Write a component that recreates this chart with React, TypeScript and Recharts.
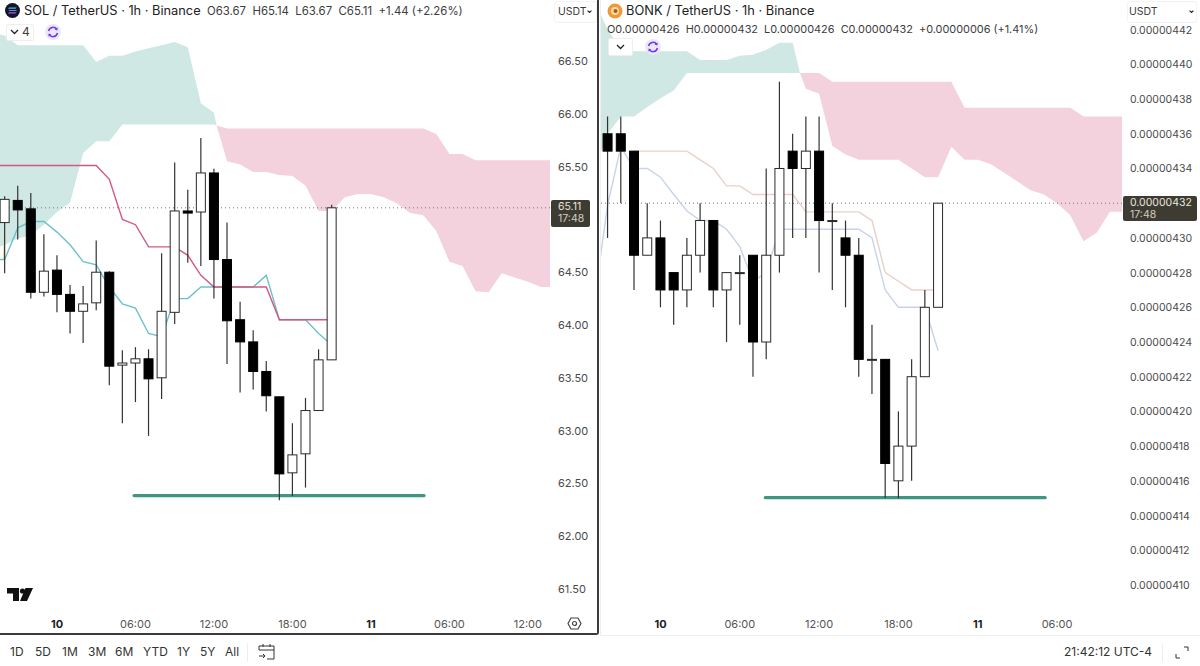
import { ComposedChart, Area, Bar, Line, XAxis, YAxis, ReferenceLine } from 'recharts'

const FONT = 'Inter, "Noto Sans", sans-serif'
const CANDLE_WIDTH = 10

// SOL, hours counted from the 10th 00:00
const solHours = [-4, -3, -2, -1, 0, 1, 2, 3, 4, 5, 6, 7, 8, 9, 10, 11, 12, 13, 14, 15, 16, 17, 18, 19, 20, 21]
const solOpen = [64.97, 65.18, 65.10, 64.31, 64.52, 64.29, 64.13, 64.21, 64.50, 63.62, 63.64, 63.68, 63.50, 64.12, 65.08, 65.07, 65.44, 64.62, 64.05, 63.84, 63.56, 63.32, 62.60, 62.78, 63.19, 63.67]
const solHigh = [65.22, 65.32, 65.25, 64.86, 64.66, 64.38, 64.37, 64.80, 64.51, 63.76, 63.79, 63.77, 64.68, 65.54, 65.28, 65.77, 65.48, 64.97, 64.22, 63.95, 63.66, 63.32, 63.07, 63.31, 63.77, 65.14]
const solLow = [64.49, 64.81, 64.25, 64.27, 64.12, 63.92, 63.83, 64.14, 63.43, 63.07, 63.27, 62.95, 63.30, 64.01, 64.59, 64.56, 64.25, 63.63, 63.36, 63.39, 63.18, 62.34, 62.38, 62.46, 63.19, 63.67]
const solClose = [65.19, 65.09, 64.31, 64.51, 64.29, 64.13, 64.20, 64.50, 63.61, 63.64, 63.68, 63.49, 64.13, 65.08, 65.06, 65.44, 64.62, 64.04, 63.84, 63.56, 63.33, 62.59, 62.77, 63.19, 63.67, 65.11]

const solGreenHours = [-5, -4, -3, -2, -1, 0, 1, 2, 3, 4, 5, 6, 7, 8, 9, 10, 11, 12, 12.2]
const solGreenTop = [66.77, 66.74, 66.65, 66.65, 66.65, 66.65, 66.65, 66.65, 66.49, 66.55, 66.55, 66.59, 66.62, 66.65, 66.68, 66.63, 66.10, 66.01, 65.89]
const solGreenBottom = [64.71, 64.76, 64.82, 64.85, 64.95, 65.07, 65.16, 65.63, 65.74, 65.74, 65.90, 65.90, 65.90, 65.90, 65.90, 65.90, 65.90, 65.90, 65.89]

const solPinkHours = [12.2, 13, 14, 15, 16, 17, 18, 19, 20, 21, 22, 23, 24, 25, 26, 27, 28, 29, 30, 31, 32, 33, 34, 35, 36, 37, 38]
const solPinkTop = [65.89, 65.86, 65.86, 65.86, 65.86, 65.86, 65.86, 65.86, 65.86, 65.86, 65.86, 65.86, 65.86, 65.86, 65.86, 65.86, 65.86, 65.81, 65.62, 65.62, 65.56, 65.56, 65.56, 65.56, 65.56, 65.56, 65.56]
const solPinkBottom = [65.89, 65.55, 65.52, 65.45, 65.45, 65.42, 65.41, 65.32, 65.08, 65.08, 65.21, 65.24, 65.24, 65.21, 65.15, 65.06, 65.04, 64.89, 64.60, 64.56, 64.32, 64.31, 64.49, 64.45, 64.41, 64.36, 64.36]

const solLineHours = [-5, -4, -3, -2, -1, 0, 1, 2, 3, 4, 5, 6, 7, 8, 9, 10, 11, 12, 13, 14, 15, 16, 17, 18, 19, 20, 21]
const solTenkan = [64.62, 64.62, 64.92, 64.98, 64.98, 64.88, 64.76, 64.60, 64.57, 64.36, 64.20, 64.16, 63.92, 63.89, 64.25, 64.25, 64.36, 64.36, 64.36, 64.36, 64.36, 64.47, 64.05, 64.05, 64.05, 63.92, 63.81]
const solKijun = [65.51, 65.51, 65.51, 65.51, 65.51, 65.51, 65.51, 65.51, 65.51, 65.38, 65.00, 64.95, 64.74, 64.74, 64.74, 64.66, 64.47, 64.36, 64.36, 64.36, 64.36, 64.36, 64.05, 64.05, 64.05, 64.05, 64.05]
const solLagHours = [-5, -4.1, -4]
const solLag = [64.62, 64.62, 64.95]
const solSupportHours = [5.89, 28.06]
const solSupport = [62.385, 62.385]
const solTicks = [66.5, 66, 65.5, 64.5, 64, 63.5, 63, 62.5, 62, 61.5]
const solTimeTicks = [0, 6, 12, 18, 24, 30, 36]

// BONK, prices in units of 0.00000001
const bonkHours = [-4, -3, -2, -1, 0, 1, 2, 3, 4, 5, 6, 7, 8, 9, 10, 11, 12, 13, 14, 15, 16, 17, 18, 19, 20, 21]
const bonkOpen = [436, 436, 435, 429, 430, 428, 427, 429, 431, 427, 428, 429, 424, 429, 435, 434, 435, 431, 430, 429, 423, 423, 416, 418, 422, 426]
const bonkHigh = [437, 437, 435, 432, 431, 428, 430, 432, 431, 428, 429, 429, 434, 439, 436, 437, 437, 432, 431, 430, 425, 423, 420, 423, 427, 432]
const bonkLow = [430, 432, 427, 429, 426, 425, 426, 428, 426, 424, 425, 422, 423, 428, 430, 430, 428, 427, 426, 422, 421, 415, 415, 416, 422, 426]
const bonkClose = [435, 435, 429, 430, 427, 427, 429, 431, 427, 428, 428, 424, 429, 434, 434, 435, 431, 431, 429, 423, 423, 417, 418, 422, 426, 432]

const bonkGreenHours = [-5, -4, -3, -2, -1, 0, 1, 2, 3, 4, 5, 6, 7, 8, 9, 10, 10.55]
const bonkGreenTop = [443.7, 442, 440.95, 440.75, 440.75, 440.75, 440.75, 440.75, 440.25, 440.25, 440.25, 440.5, 440.55, 440.85, 441.25, 441.25, 439.5]
const bonkGreenBottom = [433.9, 436, 437, 437, 437.55, 438.05, 438.5, 439.5, 439.5, 439.5, 439.5, 439.5, 439.5, 439.5, 439.5, 439.5, 439.5]

const bonkPinkHours = [10.55, 11, 12, 13, 14, 15, 16, 17, 18, 19, 20, 21, 22, 23, 24, 25, 26, 27, 28, 29, 30, 31, 32, 33, 34, 35]
const bonkPinkTop = [439.5, 439.5, 439.5, 439, 439, 439, 439, 439, 439, 439, 439, 439, 439, 437.5, 437.5, 437.5, 437.5, 437.5, 437.5, 437.5, 437.5, 437.5, 437, 437, 437, 437]
const bonkPinkBottom = [439.5, 438.6, 438.3, 435.3, 434.8, 434.5, 434.5, 434.5, 434.5, 434, 433.5, 433.5, 435.25, 434.5, 434.5, 434.25, 433.75, 433.25, 432.75, 432.5, 432, 431.3, 429.8, 430.3, 431.5, 431.5]

const bonkTenkanHours = [-5, -4, -3, -2, -1, 0, 1, 2, 3, 4, 5, 6, 7, 8, 9, 10, 11, 12, 13, 14, 15, 16, 17, 18, 19, 20, 21]
const bonkTenkan = [426.4, 431.9, 435.25, 434, 434, 433.5, 432.5, 431.55, 431, 431, 430.5, 429.5, 427.5, 428, 430.5, 430.5, 430.5, 430.5, 430.5, 430.5, 430.5, 430, 427, 426, 426, 426, 423.5]
const bonkKijunHours = [-2, -1, 0, 1, 2, 3, 4, 5, 6, 7, 8, 9, 10, 11, 12, 13, 14, 15, 16, 17, 18, 19, 20, 21]
const bonkKijun = [435, 435, 435, 435, 435, 434.5, 434, 433, 433, 432.5, 432.5, 432.5, 432.5, 431.5, 431.5, 431.5, 431.5, 431.5, 431, 428, 427.5, 427, 427, 427]
const bonkSupportHours = [7.93, 29.1]
const bonkSupport = [415.03, 415.03]
const bonkTicks = [442, 440, 438, 436, 434, 430, 428, 426, 424, 422, 420, 418, 416, 414, 412, 410]
const bonkTimeTicks = [0, 6, 12, 18, 24, 30]

const rangeButtons = ['1D', '5D', '1M', '3M', '6M', 'YTD', '1Y', '5Y', 'All']
const rangeLefts = [10, 35, 62, 88, 115, 143, 177, 200, 225]

function buildRows(parts: {
  hours: number[]; open: number[]; high: number[]; low: number[]; close: number[]
  greenHours: number[]; greenTop: number[]; greenBottom: number[]
  pinkHours: number[]; pinkTop: number[]; pinkBottom: number[]
  lines: Record<string, [number[], number[]]>
}) {
  const rows = new Map<number, any>()
  const at = (h: number) => {
    if (!rows.has(h)) rows.set(h, { hour: h })
    return rows.get(h)
  }
  parts.hours.forEach((h, i) => {
    Object.assign(at(h), { o: parts.open[i], h: parts.high[i], l: parts.low[i], c: parts.close[i], range: [parts.low[i], parts.high[i]] })
  })
  parts.greenHours.forEach((h, i) => { at(h).green = [parts.greenBottom[i], parts.greenTop[i]] })
  parts.pinkHours.forEach((h, i) => { at(h).pink = [parts.pinkBottom[i], parts.pinkTop[i]] })
  Object.entries(parts.lines).forEach(([key, [hs, vals]]) => {
    hs.forEach((h, i) => { at(h)[key] = vals[i] })
  })
  return [...rows.values()].sort((a, b) => a.hour - b.hour)
}

const solRows = buildRows({
  hours: solHours, open: solOpen, high: solHigh, low: solLow, close: solClose,
  greenHours: solGreenHours, greenTop: solGreenTop, greenBottom: solGreenBottom,
  pinkHours: solPinkHours, pinkTop: solPinkTop, pinkBottom: solPinkBottom,
  lines: {
    tenkan: [solLineHours, solTenkan],
    kijun: [solLineHours, solKijun],
    lag: [solLagHours, solLag],
    support: [solSupportHours, solSupport],
  },
})

const bonkRows = buildRows({
  hours: bonkHours, open: bonkOpen, high: bonkHigh, low: bonkLow, close: bonkClose,
  greenHours: bonkGreenHours, greenTop: bonkGreenTop, greenBottom: bonkGreenBottom,
  pinkHours: bonkPinkHours, pinkTop: bonkPinkTop, pinkBottom: bonkPinkBottom,
  lines: {
    tenkan: [bonkTenkanHours, bonkTenkan],
    kijun: [bonkKijunHours, bonkKijun],
    support: [bonkSupportHours, bonkSupport],
  },
})

// the Bar hands us the pixel span of low..high, open and close are placed inside it.
// its own width is squeezed by the close x values in the table, so the body width is fixed here
function Candle(props: any) {
  const { x, y, width, height, payload } = props
  if (payload.o == null) return null
  const unit = height / (payload.h - payload.l)
  const py = (p: number) => y + (payload.h - p) * unit
  const mid = x + width / 2
  const top = py(Math.max(payload.o, payload.c))
  const bottom = py(Math.min(payload.o, payload.c))
  const up = payload.c >= payload.o
  return (
    <g>
      <line x1={mid} x2={mid} y1={y} y2={y + height} stroke="#333" strokeWidth={1.2} />
      <rect
        x={mid - CANDLE_WIDTH / 2 + 0.5}
        y={top}
        width={CANDLE_WIDTH - 1}
        height={Math.max(bottom - top, 1)}
        fill={up ? '#fff' : '#000'}
        stroke={up ? '#2a2a2a' : '#000'}
        strokeWidth={1}
      />
    </g>
  )
}

function TimeTick({ x, y, payload }: any) {
  const v = payload.value
  const label = v === 0 ? '10' : v === 24 ? '11' : String(v % 24).padStart(2, '0') + ':00'
  const bold = v === 0 || v === 24
  return (
    <text x={x} y={y + 8} textAnchor="middle" fontFamily={FONT} fontSize={11} fontWeight={bold ? 700 : 400} fill={bold ? '#222' : '#555'}>
      {label}
    </text>
  )
}

function PriceTick({ x, y, payload, format, size }: any) {
  return (
    <text x={x} y={y + 4} textAnchor="start" fontFamily={FONT} fontSize={size} fill="#4a4a4a">
      {format(payload.value)}
    </text>
  )
}

function Panel(props: {
  left: number; width: number; axisWidth: number; rows: any[]; domainX: [number, number]; domainY: [number, number]
  ticks: number[]; timeTicks: number[]; format: (v: number) => string; tickSize: number; last: number
  tenkanColor: string; kijunColor: string
}) {
  const { left, width, axisWidth, rows, domainX, domainY, ticks, timeTicks, format, tickSize, last, tenkanColor, kijunColor } = props
  return (
    <div style={{ position: 'absolute', left, top: 0 }}>
      <ComposedChart width={width} height={634} data={rows} margin={{ top: 0, right: 0, bottom: 0, left: 0 }} barSize={10}>
        <XAxis
          dataKey="hour"
          type="number"
          domain={domainX}
          ticks={timeTicks}
          allowDataOverflow
          interval={0}
          height={22}
          axisLine={false}
          tickLine={false}
          tick={<TimeTick />}
        />
        <YAxis
          orientation="right"
          type="number"
          domain={domainY}
          ticks={ticks}
          allowDataOverflow
          interval={0}
          width={axisWidth}
          axisLine={false}
          tickLine={false}
          tickSize={0}
          tickMargin={8}
          tick={<PriceTick format={format} size={tickSize} />}
        />
        <Area dataKey="green" stroke="none" fill="#cfe8e3" fillOpacity={1} connectNulls isAnimationActive={false} dot={false} activeDot={false} />
        <Area dataKey="pink" stroke="none" fill="#f3d1dd" fillOpacity={1} connectNulls isAnimationActive={false} dot={false} activeDot={false} />
        <ReferenceLine y={last} stroke="#777" strokeDasharray="1 3" />
        <Line dataKey="lag" stroke="#eed7a6" strokeWidth={1} dot={false} connectNulls isAnimationActive={false} />
        <Line dataKey="tenkan" stroke={tenkanColor} strokeWidth={1.4} dot={false} connectNulls isAnimationActive={false} />
        <Line dataKey="kijun" stroke={kijunColor} strokeWidth={1.4} dot={false} connectNulls isAnimationActive={false} />
        <Line dataKey="support" stroke="#3f9682" strokeWidth={3.2} strokeLinecap="round" dot={false} connectNulls isAnimationActive={false} />
        <Bar dataKey="range" shape={<Candle />} isAnimationActive={false} zIndex={500} />
      </ComposedChart>
    </div>
  )
}

function Label(props: { x: number; y: number; size?: number; color?: string; weight?: number; children: any }) {
  const { x, y, size = 12, color = '#3c3c3c', weight = 400, children } = props
  return (
    <div style={{ position: 'absolute', left: x, top: y, fontFamily: FONT, fontSize: size, color, fontWeight: weight, lineHeight: '14px', whiteSpace: 'nowrap' }}>
      {children}
    </div>
  )
}

function SyncIcon({ x, y }: { x: number; y: number }) {
  return (
    <svg style={{ position: 'absolute', left: x, top: y }} width={16} height={16} viewBox="0 0 16 16">
      <circle cx={8} cy={8} r={8} fill="#ece6fb" />
      <path d="M3.6 7 A4.5 4.5 0 0 1 11.8 5.4 M12.4 9 A4.5 4.5 0 0 1 4.2 10.6" fill="none" stroke="#6a3de8" strokeWidth={1.5} />
      <path d="M12.6 3.4 L12.4 6.4 L9.6 5.6 Z M3.4 12.6 L3.6 9.6 L6.4 10.4 Z" fill="#6a3de8" />
    </svg>
  )
}

function Chevron({ x, y, w = 9 }: { x: number; y: number; w?: number }) {
  return (
    <svg style={{ position: 'absolute', left: x, top: y }} width={w} height={(w * 2) / 3} viewBox="0 0 9 6">
      <path d="M1 1 L4.5 4.5 L8 1" fill="none" stroke="#222" strokeWidth={w < 9 ? 2 : 1.3} />
    </svg>
  )
}

function Tag({ x, y, w, h, top, bottom }: { x: number; y: number; w: number; h: number; top: string; bottom: string }) {
  return (
    <div style={{ position: 'absolute', left: x, top: y, width: w, height: h, background: '#3e3b33', borderRadius: 2, color: '#e8e6df', fontFamily: FONT, fontSize: 10.5, lineHeight: '12px', boxSizing: 'border-box', padding: '1px 7px' }}>
      <div>{top}</div>
      <div style={{ color: '#cfccc2' }}>{bottom}</div>
    </div>
  )
}

export default function App() {
  return (
    <div style={{ position: 'absolute', left: 0, top: 0, width: 1200, height: 666, background: '#fff', overflow: 'hidden' }}>
      <Panel
        left={0} width={598} axisWidth={48} rows={solRows}
        domainX={[-4.358, 37.69]} domainY={[61.282, 67.078]}
        ticks={solTicks} timeTicks={solTimeTicks} format={v => v.toFixed(2)} tickSize={11} last={65.11}
        tenkanColor="#6cc2ca" kijunColor="#d4587f"
      />
      <Panel
        left={600} width={600} axisWidth={78} rows={bonkRows}
        domainX={[-4.576, 34.91]} domainY={[408.44, 443.71]}
        ticks={bonkTicks} timeTicks={bonkTimeTicks} format={v => '0.00000' + v} tickSize={10.5} last={432}
        tenkanColor="#c8d2ea" kijunColor="#ebcfc8"
      />

      {/* panel frames */}
      <div style={{ position: 'absolute', left: 0, top: -2, width: 597, height: 635, borderRight: '2px solid #3a3a3a', borderBottom: '2px solid #3a3a3a', borderBottomRightRadius: 3 }} />
      <div style={{ position: 'absolute', left: 600, top: -2, width: 600, height: 637, borderLeft: '1px solid #eee', borderBottom: '1px solid #eee' }} />

      {/* SOL header */}
      <svg style={{ position: 'absolute', left: 5, top: 3 }} width={15} height={15} viewBox="0 0 15 15">
        <circle cx={7.5} cy={7.5} r={7.5} fill="#12162c" />
        <path d="M4 4.6 H11.6 L10.6 5.8 H3 Z" fill="#45c6c9" />
        <path d="M3.4 6.9 H11 L12 8.1 H4.4 Z" fill="#7c7be0" />
        <path d="M4 9.2 H11.6 L10.6 10.4 H3 Z" fill="#a45ee0" />
      </svg>
      <Label x={24} y={4} size={12.8} color="#222">SOL / TetherUS · 1h · Binance</Label>
      <Label x={207} y={4} size={11.4}>O63.67&nbsp; H65.14&nbsp; L63.67&nbsp; C65.11&nbsp; +1.44 (+2.26%)</Label>
      <div style={{ position: 'absolute', left: 6, top: 24, width: 26, height: 15, background: '#fff', border: '1px solid #eee', borderRadius: 2 }} />
      <Chevron x={10} y={29} />
      <Label x={22} y={25} size={12}>4</Label>
      <SyncIcon x={45} y={24} />
      <svg style={{ position: 'absolute', left: 7, top: 587 }} width={26} height={15} viewBox="0 0 26 15">
        <path d="M0 1 H12 V14 H6 V6.5 H0 Z" fill="#111" />
        <circle cx={15.5} cy={4} r={2.6} fill="#111" />
        <path d="M18.5 1 H26 L20 14 H13 Z" fill="#111" />
      </svg>
      <svg style={{ position: 'absolute', left: 567, top: 616 }} width={15} height={15} viewBox="0 0 15 15">
        <path d="M4 2 H11 L14 7.5 L11 13 H4 L1 7.5 Z" fill="none" stroke="#444" strokeWidth={1.2} />
        <circle cx={7.5} cy={7.5} r={2} fill="none" stroke="#444" strokeWidth={1.2} />
      </svg>
      <div style={{ position: 'absolute', left: 554, top: 1, width: 41, height: 20, border: '1px solid #f3f3f3', borderRadius: 3, background: '#fff' }} />
      <Label x={558} y={5} size={10.5}>USDT</Label>
      <Chevron x={587} y={10} w={5} />
      <Tag x={551} y={200} w={39} h={27} top="65.11" bottom="17:48" />

      {/* BONK header */}
      <svg style={{ position: 'absolute', left: 607, top: 3 }} width={16} height={16} viewBox="0 0 16 16">
        <circle cx={8} cy={8} r={7.5} fill="#ee9a36" />
        <circle cx={8} cy={8} r={4} fill="#f8d9a8" />
        <circle cx={8.5} cy={8} r={2} fill="#b8561a" />
      </svg>
      <Label x={626} y={4} size={12.85} color="#222">BONK / TetherUS · 1h · Binance</Label>
      <Label x={607} y={22} size={10.9}>O0.00000426&nbsp; H0.00000432&nbsp; L0.00000426&nbsp; C0.00000432&nbsp; +0.00000006 (+1.41%)</Label>
      <div style={{ position: 'absolute', left: 608, top: 38, width: 23, height: 16, background: '#fff', border: '1px solid #eee', borderRadius: 2 }} />
      <Chevron x={616} y={44} />
      <SyncIcon x={645} y={39} />
      <div style={{ position: 'absolute', left: 1127, top: 1, width: 68, height: 20, border: '1px solid #f3f3f3', borderRadius: 3, background: '#fff' }} />
      <Label x={1129} y={5} size={10.5}>USDT</Label>
      <Chevron x={1189} y={10} w={5} />
      <Tag x={1123} y={196} w={74} h={25} top="0.00000432" bottom="17:48" />

      {/* bottom toolbar */}
      {rangeButtons.map((b, i) => (
        <Label key={b} x={rangeLefts[i]} y={645} size={12} color="#333">{b}</Label>
      ))}
      <div style={{ position: 'absolute', left: 247, top: 643, width: 1, height: 19, background: '#eee' }} />
      <svg style={{ position: 'absolute', left: 258, top: 643 }} width={18} height={18} viewBox="0 0 18 18">
        <path d="M1 7 V3 H16 V16 H9 M1 7 H16 M5 1 V4 M12 1 V4 M1 13 H7 M5 11 L7 13 L5 15" fill="none" stroke="#333" strokeWidth={1} />
      </svg>
      <Label x={1064} y={645} size={12} color="#333">21:42:12 UTC-4</Label>
      <div style={{ position: 'absolute', left: 1162, top: 643, width: 1, height: 19, background: '#eee' }} />
      <svg style={{ position: 'absolute', left: 1175, top: 646 }} width={14} height={13} viewBox="0 0 14 13">
        <path d="M9 1 H13 V5 M1 8 V12 H5" fill="none" stroke="#333" strokeWidth={1} />
      </svg>
    </div>
  )
}
